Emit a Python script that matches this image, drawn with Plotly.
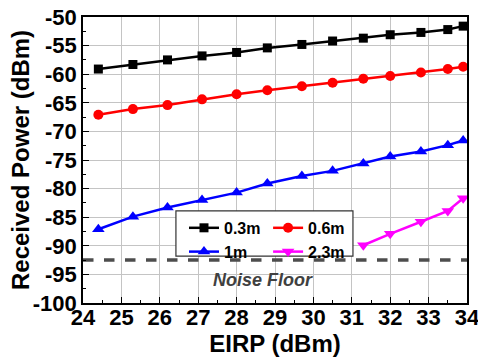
import plotly.graph_objects as go

eirp = [24.4, 25.3, 26.2, 27.1, 28.0, 28.8, 29.7, 30.5, 31.3, 32.0, 32.8, 33.5, 33.9]
p_03m = [-59.1, -58.3, -57.5, -56.8, -56.2, -55.4, -54.8, -54.2, -53.7, -53.1, -52.7, -52.2, -51.6]
p_06m = [-67.1, -66.1, -65.4, -64.4, -63.5, -62.8, -62.1, -61.5, -60.8, -60.3, -59.7, -59.1, -58.7]
p_1m = [-87.1, -84.9, -83.3, -82.0, -80.7, -79.1, -77.8, -76.9, -75.6, -74.4, -73.5, -72.4, -71.6]
eirp_23m = [31.3, 32.0, 32.8, 33.5, 33.9]
p_23m = [-89.9, -87.9, -85.8, -83.9, -81.7]
noise_floor = -92.5
x_ticks = list(range(24, 35))
y_ticks = list(range(-100, -49, 5))

FONT = "Liberation Sans, Arial, sans-serif"

fig = go.Figure()
fig.add_trace(go.Scatter(x=[24, 34], y=[noise_floor, noise_floor], mode="lines",
                         line=dict(color="#4d4d4d", width=3.5, dash="dash"),
                         showlegend=False, hoverinfo="skip"))
fig.add_trace(go.Scatter(x=eirp, y=p_03m, mode="lines+markers", name="0.3m",
                         line=dict(color="black", width=2.5),
                         marker=dict(symbol="square", size=9, color="black"),
                         legend="legend"))
fig.add_trace(go.Scatter(x=eirp, y=p_06m, mode="lines+markers", name="0.6m",
                         line=dict(color="#ff0000", width=2.5),
                         marker=dict(symbol="circle", size=10, color="#ff0000"),
                         legend="legend2"))
fig.add_trace(go.Scatter(x=eirp, y=p_1m, mode="lines+markers", name="1m",
                         line=dict(color="#0000ff", width=2.5),
                         marker=dict(symbol="triangle-up", size=11, color="#0000ff"),
                         legend="legend"))
fig.add_trace(go.Scatter(x=eirp_23m, y=p_23m, mode="lines+markers", name="2.3m",
                         line=dict(color="#ff00ff", width=2.5),
                         marker=dict(symbol="triangle-down", size=11, color="#ff00ff"),
                         legend="legend2"))

fig.add_annotation(x=28.7, y=-96.0, text="<b><i>Noise Floor</i></b>", showarrow=False,
                   font=dict(family=FONT, size=18, color="#404040"))

# y-axis title
fig.add_annotation(xref="paper", yref="paper", x=-0.164, y=0.5, xanchor="center", yanchor="middle",
                   text="<b>Received Power (dBm)</b>", textangle=-90, showarrow=False,
                   font=dict(family=FONT, size=24, color="black"))

# legend frame
fig.add_shape(type="rect", xref="paper", yref="paper", x0=0.242, x1=0.703, y0=0.164, y1=0.322,
              line=dict(color="#333333", width=1.2), fillcolor="white", layer="above")

legend_common = dict(font=dict(family=FONT, size=16, color="black", weight="bold"),
                     bgcolor="rgba(0,0,0,0)",
                     borderwidth=0, yanchor="top", xanchor="left", tracegroupgap=0,
                     itemwidth=30)

axis_common = dict(showline=True, linecolor="black", linewidth=1.5, mirror=True,
                   showgrid=True, gridcolor="#c4c4c4", gridwidth=1.3,
                   ticks="inside", ticklen=6, tickcolor="black", tickwidth=1.2,
                   tickfont=dict(family=FONT, size=22, color="black", weight="bold"),
                   zeroline=False, automargin=False, ticklabeloverflow="allow")

fig.update_layout(
    width=478, height=360,
    margin=dict(l=83, r=11, t=17, b=57, autoexpand=False),
    plot_bgcolor="white", paper_bgcolor="white",
    font=dict(family=FONT, color="black"),
    legend=dict(x=0.263, y=0.322, **legend_common),
    legend2=dict(x=0.482, y=0.322, **legend_common),
    xaxis=dict(range=[24, 34], tickvals=x_ticks, ticktext=[str(v) for v in x_ticks],
               minor=dict(dtick=0.5, ticks="inside", ticklen=3, tickcolor="black", showgrid=False),
               ticklabelstandoff=-6,
               title=dict(text="<b>EIRP (dBm)</b>", font=dict(family=FONT, size=24), standoff=2),
               **axis_common),
    yaxis=dict(range=[-100, -50], tickvals=y_ticks, ticktext=[str(v) for v in y_ticks],
               minor=dict(dtick=2.5, ticks="inside", ticklen=3, tickcolor="black", showgrid=False),
               **axis_common),
)
fig.write_html("out.html", config={"displayModeBar": False},
               post_script="document.body.style.margin='0';document.body.style.overflow='hidden';")
